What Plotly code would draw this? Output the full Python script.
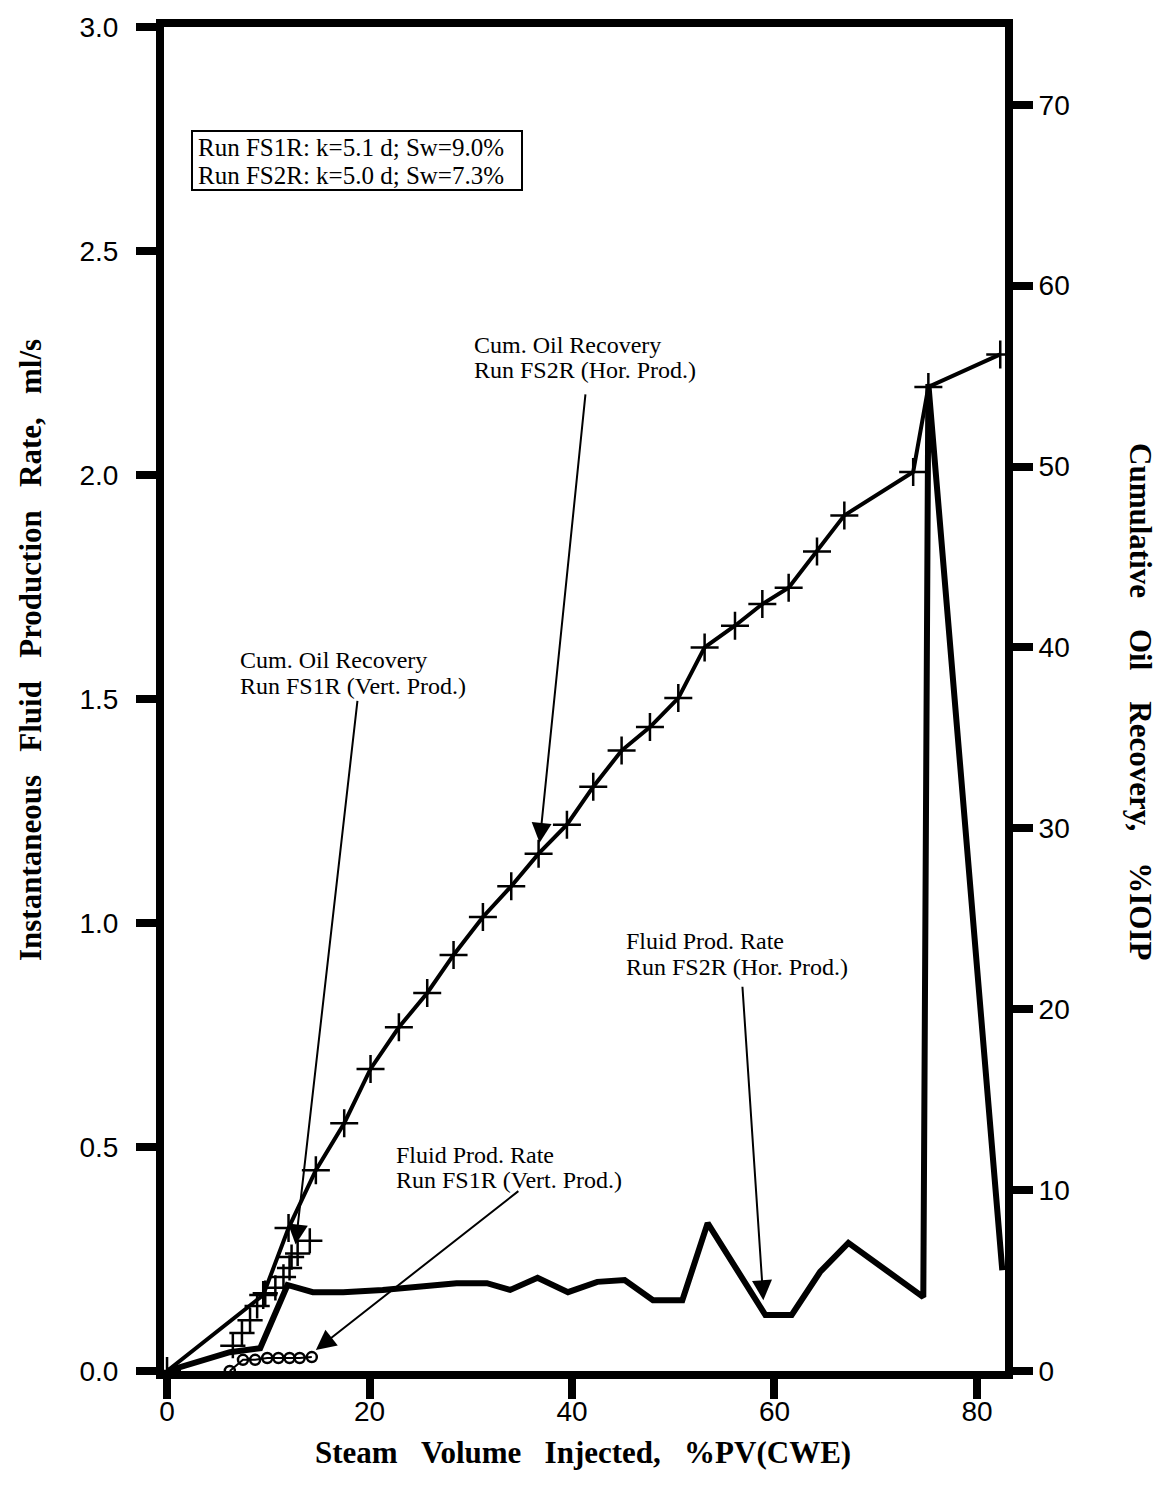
import plotly.graph_objects as go

# ---- data -------------------------------------------------------------
# Run FS2R (horizontal producer): cumulative oil recovery, %IOIP
fs2r_oil_x = [0, 9.5, 12.0, 14.7, 17.5, 20.1, 22.9, 25.7, 28.3, 31.2, 34.0, 36.7,
              39.5, 42.1, 44.9, 47.7, 50.5, 53.1, 56.1, 58.8, 61.4, 64.2, 66.9,
              73.7, 75.2, 82.3]
fs2r_oil_y = [0, 4.2, 7.9, 11.1, 13.7, 16.7, 19.0, 20.9, 23.0, 25.1, 26.8, 28.6,
              30.2, 32.3, 34.3, 35.6, 37.2, 40.0, 41.2, 42.4, 43.3, 45.3, 47.3,
              49.7, 54.4, 56.2]

# Run FS1R (vertical producer): cumulative oil recovery, %IOIP
fs1r_oil_x = [6.5, 7.4, 8.2, 8.9, 9.7, 10.7, 11.5, 12.1, 12.3, 12.9, 14.1]
fs1r_oil_y = [1.4, 2.1, 2.8, 3.6, 4.3, 4.6, 5.2, 5.7, 6.3, 6.5, 7.2]

# Run FS2R: instantaneous fluid production rate, ml/s
fs2r_rate_x = [0, 6.2, 9.2, 11.9, 14.4, 17.4, 21.3, 25.0, 28.6, 31.6, 33.9, 36.6,
               39.6, 42.5, 45.2, 48.0, 50.9, 53.4, 59.1, 61.7, 64.5, 67.3, 74.7,
               75.2, 82.5]
fs2r_rate_y = [0, 0.042, 0.051, 0.192, 0.176, 0.176, 0.181, 0.188, 0.196, 0.196,
               0.181, 0.208, 0.176, 0.199, 0.203, 0.158, 0.158, 0.330, 0.125,
               0.125, 0.221, 0.286, 0.165, 2.203, 0.225]

# Run FS1R: instantaneous fluid production rate, ml/s
fs1r_rate_x = [6.2, 7.5, 8.7, 9.9, 11.0, 12.1, 13.1, 14.3]
fs1r_rate_y = [0.0, 0.025, 0.025, 0.029, 0.029, 0.029, 0.029, 0.031]

x_ticks = [0, 20, 40, 60, 80]
left_ticks = [0.0, 0.5, 1.0, 1.5, 2.0, 2.5, 3.0]
right_ticks = [0, 10, 20, 30, 40, 50, 60, 70]

# ---- layout geometry (pixels) -----------------------------------------
W, H = 1162, 1493
L, R, T, B = 164, 1005, 27, 1371
PW, PH = R - L, B - T


def px(xp):
    return (xp - L) / PW


def py(yp):
    return (B - yp) / PH


SANS = "Liberation Sans"
SERIF = "Liberation Serif"
INK = "black"

fig = go.Figure()

fig.add_trace(go.Scatter(
    x=fs2r_rate_x, y=fs2r_rate_y, mode="lines",
    line=dict(color=INK, width=6, shape="linear"),
    yaxis="y", showlegend=False, hoverinfo="skip"))

fig.add_trace(go.Scatter(
    x=fs1r_rate_x, y=fs1r_rate_y, mode="lines+markers",
    line=dict(color=INK, width=2),
    marker=dict(symbol="circle-open", size=10, color=INK, line=dict(width=2.5)),
    yaxis="y", showlegend=False, hoverinfo="skip"))

fig.add_trace(go.Scatter(
    x=fs2r_oil_x, y=fs2r_oil_y, mode="lines+markers",
    line=dict(color=INK, width=4),
    marker=dict(symbol="cross-thin", size=20, color=INK, line=dict(width=2.5, color=INK)),
    yaxis="y2", showlegend=False, hoverinfo="skip"))

fig.add_trace(go.Scatter(
    x=fs1r_oil_x, y=fs1r_oil_y, mode="markers",
    marker=dict(symbol="cross-thin", size=18, color=INK, line=dict(width=2.5, color=INK)),
    yaxis="y2", showlegend=False, hoverinfo="skip"))

axis_common = dict(
    showgrid=False, zeroline=False, showline=True, linecolor=INK, linewidth=8,
    ticks="outside", ticklen=20, tickwidth=8, tickcolor=INK,
    tickfont=dict(family=SANS, size=28, color=INK),
)

fig.update_layout(
    width=W, height=H,
    margin=dict(l=L, r=W - R, t=T, b=H - B, pad=0),
    paper_bgcolor="white", plot_bgcolor="white",
    xaxis=dict(range=[-0.3, 82.77], tickvals=x_ticks,
               ticktext=[str(v) for v in x_ticks], mirror=True,
               ticklabelstandoff=-12, **axis_common),
    yaxis=dict(range=[0, 3.0], tickvals=left_ticks,
               ticktext=[f"{v:.1f}" for v in left_ticks],
               ticklabelstandoff=12, **axis_common),
    yaxis2=dict(range=[0, 74.3], tickvals=right_ticks,
                ticktext=[str(v) for v in right_ticks],
                overlaying="y", side="right", ticklabelstandoff=0,
                **axis_common),
)

NB = "\u00a0"
annotations = []

# axis titles (bold serif, widely spaced words)
annotations.append(dict(
    text=(NB * 3).join(["Instantaneous", "Fluid", "Production", "Rate,", "ml/s"]),
    xref="paper", yref="paper", x=px(30), y=py(650), textangle=-90,
    showarrow=False, xanchor="center", yanchor="middle",
    font=dict(family=SERIF, size=31, color=INK, weight="bold")))
annotations.append(dict(
    text=(NB * 4).join(["Cumulative", "Oil", "Recovery,", "%IOIP"]),
    xref="paper", yref="paper", x=px(1140), y=py(702), textangle=90,
    showarrow=False, xanchor="center", yanchor="middle",
    font=dict(family=SERIF, size=31, color=INK, weight="bold")))
annotations.append(dict(
    text=(NB * 3).join(["Steam", "Volume", "Injected,", "%PV(CWE)"]),
    xref="paper", yref="paper", x=px(583), y=py(1452),
    showarrow=False, xanchor="center", yanchor="middle",
    font=dict(family=SERIF, size=31, color=INK, weight="bold")))


def label(lines, x_left, y_first, step=25, size=24):
    for i, s in enumerate(lines):
        annotations.append(dict(
            text=s, xref="paper", yref="paper", x=px(x_left), y=py(y_first + i * step),
            showarrow=False, xanchor="left", yanchor="middle",
            font=dict(family=SERIF, size=size, color=INK)))


# run description box
label(["Run FS1R: k=5.1 d; Sw=9.0%", "Run FS2R: k=5.0 d; Sw=7.3%"], 196, 147, step=28, size=25)

# curve labels
label(["Cum. Oil Recovery", "Run FS2R (Hor. Prod.)"], 472, 345)
label(["Cum. Oil Recovery", "Run FS1R (Vert. Prod.)"], 238, 660, step=26)
label(["Fluid Prod. Rate", "Run FS2R (Hor. Prod.)"], 624, 941, step=26)
label(["Fluid Prod. Rate", "Run FS1R (Vert. Prod.)"], 394, 1155)

# leader arrows: head in data coordinates, tail as pixel offset
arrow_style = dict(showarrow=True, arrowhead=2, arrowsize=2.0, arrowwidth=2,
                   arrowcolor=INK, text="", standoff=0)
annotations.append(dict(x=36.8, y=29.2, xref="x", yref="y2", ax=46, ay=-450, **arrow_style))
annotations.append(dict(x=12.7, y=7.0, xref="x", yref="y2", ax=62, ay=-545, **arrow_style))
annotations.append(dict(x=58.9, y=0.158, xref="x", yref="y", ax=-21, ay=-315, **arrow_style))
annotations.append(dict(x=14.7, y=0.047, xref="x", yref="y", ax=204, ay=-160, **arrow_style))

fig.update_layout(
    annotations=annotations,
    shapes=[dict(type="rect", xref="paper", yref="paper",
                 x0=px(192), x1=px(522), y0=py(190), y1=py(131),
                 line=dict(color=INK, width=2), fillcolor="rgba(0,0,0,0)")],
)

fig.write_html("out.html")
